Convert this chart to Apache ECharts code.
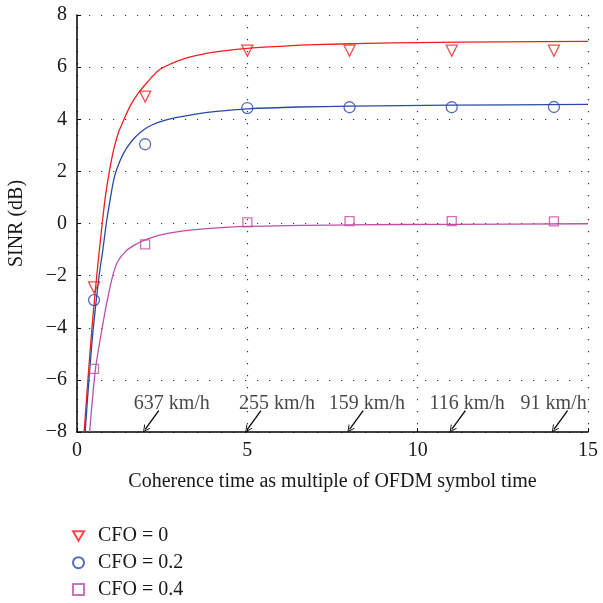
<!DOCTYPE html>
<html><head><meta charset="utf-8">
<script src="https://cdn.jsdelivr.net/npm/echarts@6/dist/echarts.min.js"></script>
<style>html,body{margin:0;padding:0;background:#fff}#c{width:603px;height:603px}</style>
</head><body><div id="c"></div>
<script>
// ---- data ----
const seriesNames = ['CFO = 0', 'CFO = 0.2', 'CFO = 0.4'];
const markerX = [0.5, 2, 5, 8, 11, 14];
const cfo0Markers = [-2.45, 4.87, 6.63, 6.63, 6.63, 6.63];
const cfo02Markers = [-2.94, 3.04, 4.43, 4.46, 4.46, 4.47];
const cfo04Markers = [-5.58, -0.80, 0.04, 0.09, 0.09, 0.08];

const cfo0Curve = [[0.21,-8],[0.32,-6],[0.44,-4],[0.58,-2],[0.74,0],[0.84,1.1],[0.95,2],[1.08,2.85],[1.22,3.5],[1.38,4.0],[1.58,4.55],[1.8,5.0],[2.05,5.4],[2.4,5.88],[2.8,6.15],[3.2,6.35],[3.7,6.5],[4.3,6.62],[5.0,6.72],[6.0,6.8],[7.0,6.86],[8.5,6.91],[10,6.94],[12.5,6.97],[15,6.99]];
const cfo02Curve = [[0.24,-8],[0.35,-6],[0.48,-4],[0.65,-2],[0.76,-1],[0.86,0],[0.97,0.9],[1.1,1.8],[1.26,2.4],[1.46,2.9],[1.7,3.3],[1.95,3.59],[2.2,3.78],[2.5,3.93],[2.9,4.06],[3.4,4.18],[4.1,4.3],[5.0,4.4],[6.5,4.47],[8,4.5],[11,4.54],[15,4.57]];
const cfo04Curve = [[0.37,-8],[0.47,-6.5],[0.55,-5.5],[0.64,-4.75],[0.74,-4],[0.88,-3.0],[1.05,-2],[1.2,-1.45],[1.44,-1.05],[1.7,-0.82],[1.95,-0.66],[2.4,-0.46],[2.93,-0.32],[3.8,-0.2],[5,-0.11],[8,-0.05],[11,-0.03],[15,-0.01]];

const speedLabels = ['637 km/h', '255 km/h', '159 km/h', '116 km/h', '91 km/h'];
const speedX = [2, 5, 8, 11, 14];
const speedLabelX = [2.78, 5.87, 8.51, 11.45, 13.99];

const xTickLabels = ['0', '5', '10', '15'];
const yTickValues = [-8, -6, -4, -2, 0, 2, 4, 6, 8];

// ---- styling ----
const colors = ['#f01e1e', '#2a4aa6', '#c04ea8'];
const FONT = 'Liberation Serif';
const TXT = '#1a1718';

const zip = (xs, ys) => xs.map((x, i) => [x, ys[i]]);

const chart = echarts.init(document.getElementById('c'), null, {renderer: 'canvas'});

const curves = [cfo0Curve, cfo02Curve, cfo04Curve];
const markers = [cfo0Markers, cfo02Markers, cfo04Markers];
const symbols = ['triangle', 'circle', 'rect'];
const rotates = [180, 0, 0];
const sizes = [11, 11, 9];
const legendIcons = ['path://M0,0 L10,0 L5,8.66 Z', 'circle', 'rect'];

const series = [];
curves.forEach((c, i) => {
  series.push({
    name: seriesNames[i] + ' fit', type: 'line', data: c, smooth: 0.3,
    showSymbol: false, symbol: 'none', lineStyle: {color: colors[i], width: 1.3},
    itemStyle: {color: colors[i]}, z: 3, silent: true
  });
});
markers.forEach((m, i) => {
  series.push({
    name: seriesNames[i], type: 'scatter', data: zip(markerX, m),
    symbol: symbols[i], symbolRotate: rotates[i], symbolSize: sizes[i],
    itemStyle: {color: 'rgba(255,255,255,0)', borderColor: colors[i], borderWidth: 1.3},
    z: 4
  });
});
// speed annotations: text
series.push({
  name: 'speed', type: 'scatter', symbolSize: 0,
  data: speedLabels.map((s, i) => ({name: s, value: [speedLabelX[i], -6.9]})),
  label: {show: true, position: 'inside', formatter: p => p.name,
          fontFamily: FONT, fontSize: 20, color: TXT},
  z: 5, silent: true
});
// speed annotations: arrows
series.push({
  name: 'arrows', type: 'lines', coordinateSystem: 'cartesian2d',
  data: speedX.map(x => ({coords: [[x + 0.4, -7.18], [x, -7.9]]})),
  symbol: ['none', 'path://M5,0 L10,5 L8.6,5 L5,1.4 L1.4,5 L0,5 Z'],
  symbolSize: [15, 7.5], symbolOffset: [0, '50%'],
  lineStyle: {color: '#111', width: 1.4, opacity: 1},
  itemStyle: {color: '#111'},
  z: 5, silent: true
});

const dotted = {color: '#333', width: 1.2, type: [1.2, 10.8]};

chart.setOption({
  animation: false,
  backgroundColor: '#fff',
  grid: {left: 77, right: 15, top: 15, bottom: 171, containLabel: false, outerBoundsMode: 'none'},
  xAxis: {
    type: 'value', min: 0, max: 15, interval: 5,
    name: 'Coherence time as multiple of OFDM symbol time', nameLocation: 'middle', nameGap: 40,
    nameTextStyle: {fontFamily: FONT, fontSize: 20, color: TXT},
    axisLine: {show: true, onZero: false, lineStyle: {color: '#000', width: 1.5}},
    axisTick: {show: true, inside: true, length: 4, lineStyle: {color: '#000', width: 1}},
    axisLabel: {margin: 9, fontFamily: FONT, fontSize: 20, color: TXT,
                formatter: (v) => xTickLabels[Math.round(v / 5)]},
    splitLine: {show: true, lineStyle: dotted}
  },
  yAxis: {
    type: 'value', min: -8, max: 8, interval: 2,
    name: 'SINR (dB)', nameLocation: 'middle', nameGap: 50,
    nameTextStyle: {fontFamily: FONT, fontSize: 20, color: TXT},
    axisLine: {show: true, onZero: false, lineStyle: {color: '#000', width: 1.5}},
    axisTick: {show: true, inside: true, length: 4, lineStyle: {color: '#000', width: 1}},
    axisLabel: {margin: 10, fontFamily: FONT, fontSize: 20, color: TXT,
                formatter: (v) => { const t = yTickValues.find(k => k === v); return t < 0 ? '\u2212' + Math.abs(t) : String(t); }},
    splitLine: {show: true, lineStyle: dotted}
  },
  legend: {
    data: seriesNames.map((n, i) => ({name: n, icon: legendIcons[i]})),
    orient: 'vertical', left: 72, top: 526, padding: 0,
    itemWidth: 11, itemHeight: 11, itemGap: 6.7,
    textStyle: {fontFamily: FONT, fontSize: 20, lineHeight: 20, color: TXT, padding: [0, 0, 0, 9]},
    selectedMode: false
  },
  series: series
});
</script></body></html>
